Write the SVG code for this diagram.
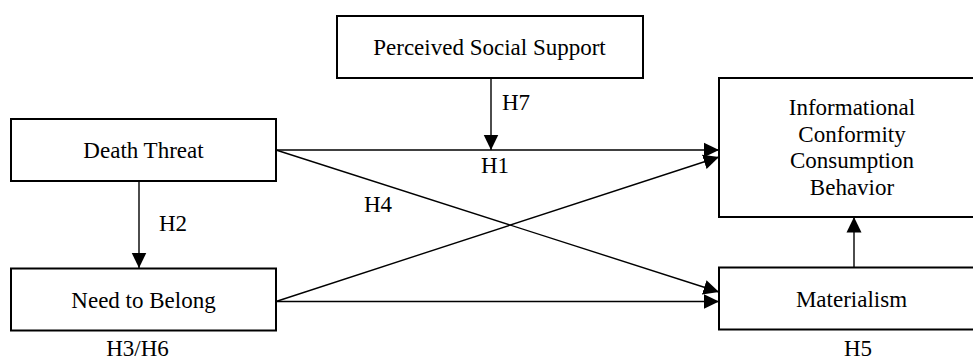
<svg xmlns="http://www.w3.org/2000/svg" width="973" height="360" viewBox="0 0 973 360">
<style>
.box{fill:#fff;stroke:#000;stroke-width:2}
.t{font-family:"Liberation Serif","Times New Roman",serif;font-size:23px;fill:#000}
.c{text-anchor:middle}
.ln{stroke:#000;stroke-width:1.4;fill:none;marker-end:url(#ah)}
</style>
<defs>
<marker id="ah" markerUnits="userSpaceOnUse" markerWidth="16" markerHeight="16" viewBox="0 0 16 16" refX="15.5" refY="8" orient="auto">
<path d="M0,0.5 L15.5,8 L0,15.5 Z" fill="#000"/>
</marker>
</defs>
<rect width="973" height="360" fill="#fff"/>
<g id="connectors">
<line class="ln" x1="491" y1="78" x2="491" y2="150"/>
<line class="ln" x1="276" y1="150" x2="719" y2="150"/>
<line class="ln" x1="276" y1="150" x2="719" y2="292"/>
<line class="ln" x1="276" y1="301.5" x2="719" y2="157"/>
<line class="ln" x1="276" y1="301.5" x2="719" y2="301.5"/>
<line class="ln" x1="139" y1="181" x2="139" y2="268"/>
<line class="ln" x1="854" y1="267" x2="854" y2="217"/>
<text class="t" x="502" y="110">H7</text>
<text class="t" x="481" y="173">H1</text>
<text class="t" x="364" y="212">H4</text>
<text class="t" x="159" y="231">H2</text>
<text class="t c" x="137.5" y="356">H3/H6</text>
<text class="t c" x="858" y="356">H5</text>
</g>
<g id="perceived">
<rect class="box" x="337" y="16" width="306" height="62"/>
<text class="t c" x="489.5" y="55">Perceived Social Support</text>
</g>
<g id="death">
<rect class="box" x="11" y="119" width="265" height="62"/>
<text class="t c" x="143.5" y="158">Death Threat</text>
</g>
<g id="need">
<rect class="box" x="11" y="268.5" width="265" height="62"/>
<text class="t c" x="143.5" y="308">Need to Belong</text>
</g>
<g id="iccb">
<rect class="box" x="719" y="78" width="266" height="139"/>
<text class="t c" x="852" y="115">Informational</text>
<text class="t c" x="852" y="141.7">Conformity</text>
<text class="t c" x="852" y="168.3">Consumption</text>
<text class="t c" x="852" y="195">Behavior</text>
</g>
<g id="materialism">
<rect class="box" x="719" y="267.5" width="266" height="62"/>
<text class="t c" x="851.5" y="307">Materialism</text>
</g>
</svg>
